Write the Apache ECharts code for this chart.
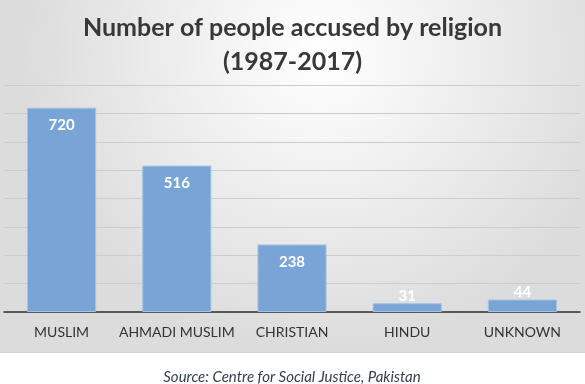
<!DOCTYPE html>
<html>
<head>
<meta charset="utf-8">
<script src="https://cdn.jsdelivr.net/npm/echarts@6/dist/echarts.min.js"></script>
<style>
html,body{margin:0;padding:0;background:#fff;}
#chart{width:585px;height:384px;}
</style>
</head>
<body>
<div id="chart"></div>
<script>
const categories = ['MUSLIM', 'AHMADI MUSLIM', 'CHRISTIAN', 'HINDU', 'UNKNOWN'];
const accused = [720, 516, 238, 31, 44];
const titleLines = ['Number of people accused by religion', '(1987-2017)'];
const sourceText = 'Source: Centre for Social Justice, Pakistan';

const chart = echarts.init(document.getElementById('chart'));
const font = 'Lato, "Open Sans", sans-serif';

const barData = accused.map(v => ({
  value: v,
  label: v < 100
    ? { position: 'top', distance: 0 }
    : { position: 'insideTop', distance: 10 }
}));

chart.setOption({
  backgroundColor: '#ffffff',
  animation: false,
  graphic: [
    {
      type: 'rect', z: -10, silent: true,
      shape: { x: 0, y: 0, width: 585, height: 352 },
      style: {
        fill: new echarts.graphic.RadialGradient(0.55, 0.15, 0.85, [
          { offset: 0, color: '#ffffff' },
          { offset: 1, color: '#dcdcdc' }
        ])
      }
    },
    {
      type: 'line', z: -9, silent: true,
      shape: { x1: 0, y1: 352.5, x2: 585, y2: 352.5 },
      style: { stroke: '#d4d4d4', lineWidth: 1 }
    },
    {
      type: 'text', silent: true,
      x: 292, y: 377,
      style: {
        text: sourceText,
        font: 'italic 15px ' + font,
        fill: '#34404e',
        textAlign: 'center',
        textVerticalAlign: 'middle'
      }
    }
  ],
  title: {
    text: titleLines.join('\n'),
    left: 'center',
    top: 6,
    textStyle: {
      fontFamily: font,
      fontWeight: 'bold',
      fontSize: 25,
      lineHeight: 34,
      color: '#383838'
    }
  },
  grid: { left: 4, right: 5, top: 85, bottom: 72, containLabel: false },
  xAxis: {
    type: 'category',
    data: categories,
    axisLine: { lineStyle: { color: '#2e2e2e', width: 1.5 } },
    axisTick: { show: false },
    axisLabel: { color: '#333333', fontSize: 14, fontFamily: font, margin: 13, interval: 0 }
  },
  yAxis: {
    type: 'value',
    min: 0, max: 800, interval: 100,
    axisLabel: { show: false },
    axisLine: { show: false },
    axisTick: { show: false },
    splitLine: { lineStyle: { color: '#cdcdcd', width: 1 } }
  },
  series: [{
    type: 'bar',
    data: barData,
    barWidth: '60%',
    itemStyle: { color: '#79a4d6', borderColor: '#a5c2e6', borderWidth: 1 },
    label: {
      show: true,
      color: '#ffffff',
      fontWeight: 'bold',
      fontSize: 15,
      fontFamily: font
    }
  }]
});
</script>
</body>
</html>
